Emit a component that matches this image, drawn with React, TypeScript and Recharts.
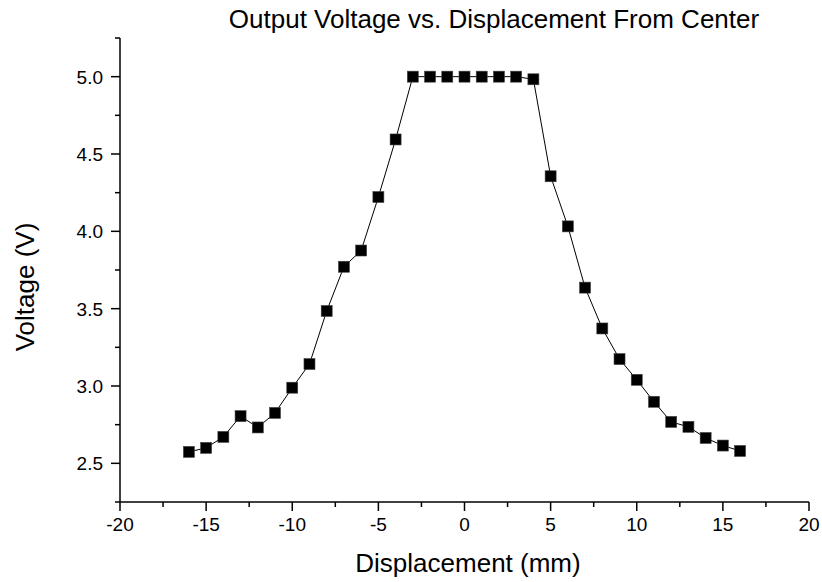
import React from "react";
import { LineChart, Line, XAxis, YAxis } from "recharts";

const displacement = [
  -16, -15, -14, -13, -12, -11, -10, -9, -8, -7, -6, -5, -4, -3, -2, -1, 0, 1,
  2, 3, 4, 5, 6, 7, 8, 9, 10, 11, 12, 13, 14, 15, 16,
];
const voltage = [
  2.574, 2.6, 2.671, 2.805, 2.732, 2.826, 2.989, 3.142, 3.485, 3.771, 3.876,
  4.222, 4.594, 5.0, 5.0, 5.0, 5.0, 5.0, 5.0, 5.0, 4.983, 4.356, 4.032, 3.636,
  3.372, 3.174, 3.04, 2.898, 2.768, 2.736, 2.664, 2.615, 2.58,
];
const xTicks = [
  -20, -17.5, -15, -12.5, -10, -7.5, -5, -2.5, 0, 2.5, 5, 7.5, 10, 12.5, 15,
  17.5, 20,
];
const yTicks = [
  2.25, 2.5, 2.75, 3.0, 3.25, 3.5, 3.75, 4.0, 4.25, 4.5, 4.75, 5.0, 5.25,
];

const data = displacement.map((d, i) => ({ d, v: voltage[i] }));

const FONT = "'Liberation Sans', Arial, sans-serif";

const XTick = (props: any) => {
  const { x, y, payload } = props;
  const major = Math.abs(payload.value % 5) < 1e-9;
  return (
    <g>
      <line x1={x} y1={y} x2={x} y2={y + (major ? 9 : 5)} stroke="#000" strokeWidth={1.5} />
      {major && (
        <text x={x} y={y + 29} textAnchor="middle" fontSize={19} fontFamily={FONT} fill="#000">
          {payload.value}
        </text>
      )}
    </g>
  );
};

const YTick = (props: any) => {
  const { x, y, payload } = props;
  const v = payload.value;
  const major = Math.abs(v * 2 - Math.round(v * 2)) < 1e-9;
  return (
    <g>
      <line x1={x - (major ? 9 : 5)} y1={y} x2={x} y2={y} stroke="#000" strokeWidth={1.5} />
      {major && (
        <text x={x - 17} y={y + 7} textAnchor="end" fontSize={19} fontFamily={FONT} fill="#000">
          {v.toFixed(1)}
        </text>
      )}
    </g>
  );
};

const Square = (props: any) => {
  const { cx, cy } = props;
  if (cx == null || cy == null) return null;
  return (
    <rect x={cx - 5.5} y={cy - 5.5} width={11} height={11} fill="#000" stroke="#444" strokeWidth={0.6} />
  );
};

export default function App() {
  return (
    <div style={{ position: "absolute", left: 0, top: 0, width: 822, height: 582, background: "#fff" }}>
      <LineChart
        width={822}
        height={582}
        data={data}
        margin={{ top: 38, right: 13, bottom: 0, left: 0 }}
      >
        <XAxis
          dataKey="d"
          type="number"
          domain={[-20, 20]}
          ticks={xTicks}
          interval={0}
          height={80}
          tickSize={0}
          tickMargin={0}
          tickLine={false}
          tick={<XTick />}
          axisLine={{ stroke: "#000", strokeWidth: 1.5 }}
          allowDataOverflow
        />
        <YAxis
          dataKey="v"
          type="number"
          domain={[2.25, 5.25]}
          ticks={yTicks}
          interval={0}
          width={120}
          tickSize={0}
          tickMargin={0}
          tickLine={false}
          tick={<YTick />}
          axisLine={{ stroke: "#000", strokeWidth: 1.5 }}
          allowDataOverflow
        />
        <Line
          dataKey="v"
          stroke="#000"
          strokeWidth={1}
          dot={<Square />}
          activeDot={false}
          isAnimationActive={false}
        />
      </LineChart>
      <svg
        width={822}
        height={582}
        style={{ position: "absolute", left: 0, top: 0, pointerEvents: "none" }}
      >
        <text x={494} y={28} textAnchor="middle" fontSize={26} fontFamily={FONT} fill="#000">
          Output Voltage vs. Displacement From Center
        </text>
        <text x={468} y={572} textAnchor="middle" fontSize={26} fontFamily={FONT} fill="#000">
          Displacement (mm)
        </text>
        <text
          x={34}
          y={287}
          textAnchor="middle"
          fontSize={26}
          fontFamily={FONT}
          fill="#000"
          transform="rotate(-90 34 287)"
        >
          Voltage (V)
        </text>
      </svg>
    </div>
  );
}
